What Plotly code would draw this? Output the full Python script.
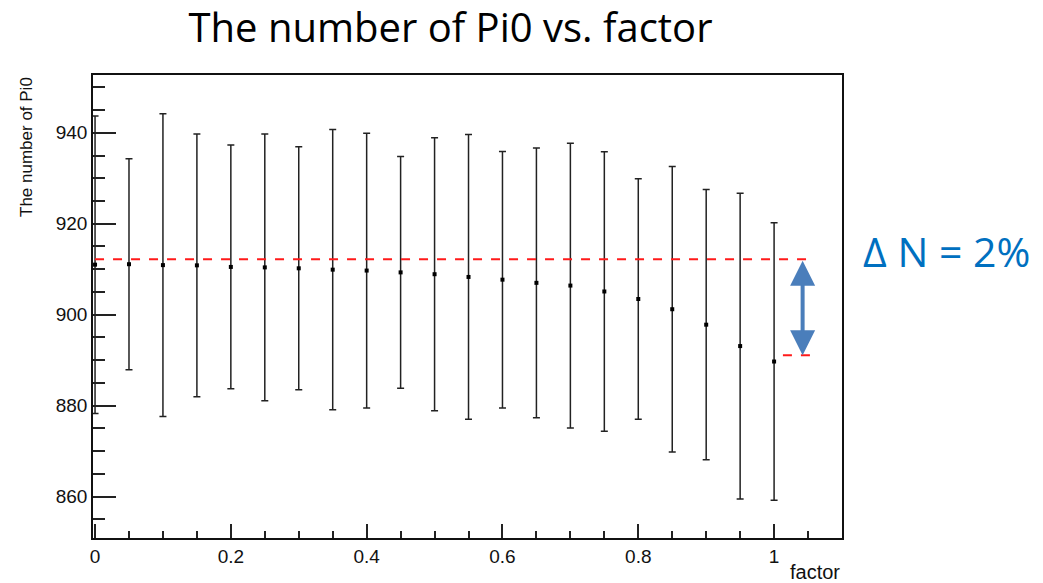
import plotly.graph_objects as go

factor = [0.0, 0.05, 0.1, 0.15, 0.2, 0.25, 0.3, 0.35, 0.4, 0.45, 0.5,
          0.55, 0.6, 0.65, 0.7, 0.75, 0.8, 0.85, 0.9, 0.95, 1.0]
n_pi0 = [911.0, 911.1, 910.9, 910.85, 910.5, 910.4, 910.2, 909.9, 909.7, 909.3, 908.9,
         908.3, 907.7, 907.0, 906.4, 905.1, 903.45, 901.2, 897.8, 893.1, 889.7]
n_err = [32.7, 23.2, 33.3, 28.9, 26.8, 29.35, 26.7, 30.8, 30.2, 25.5, 30.0,
         31.3, 28.2, 29.65, 31.3, 30.75, 26.45, 31.4, 29.7, 33.6, 30.5]

ref_high = 912.2
ref_low = 891.1

fig = go.Figure()
fig.add_trace(go.Scatter(
    x=factor, y=n_pi0, mode="markers",
    marker=dict(symbol="square", size=4, color="black"),
    error_y=dict(type="data", array=n_err, visible=True, color="#222222",
                 thickness=1.5, width=3.5),
    cliponaxis=False, showlegend=False,
))

fig.add_shape(type="line", xref="x", yref="y", x0=0.0, x1=1.06, y0=ref_high, y1=ref_high,
              line=dict(color="#ff1a1a", width=2, dash="dash"))
fig.add_shape(type="line", xref="x", yref="y", x0=1.013, x1=1.066, y0=ref_low, y1=ref_low,
              line=dict(color="#ff1a1a", width=2, dash="dash"))

fig.add_annotation(x=1.042, y=ref_low, ax=1.042, ay=ref_high, xref="x", yref="y",
                   axref="x", ayref="y", showarrow=True, arrowhead=2, arrowside="end+start",
                   arrowsize=1.25, arrowwidth=4, arrowcolor="#4a7ebb", text="", standoff=0,
                   startstandoff=0)

fig.add_annotation(x=1.026, y=0.619, xref="paper", yref="paper", xanchor="left",
                   yanchor="middle", text="Δ N = 2%", showarrow=False,
                   font=dict(family="Open Sans", size=41, color="#0070c0"))

fig.update_layout(
    width=1043, height=583,
    margin=dict(l=93, r=201, t=75, b=45),
    plot_bgcolor="white", paper_bgcolor="white",
    font=dict(family="Liberation Sans", size=19, color="#111111"),
    title=dict(text="The number of Pi0 vs. factor", x=450.5 / 1043, xanchor="center",
               y=1 - 28 / 583, yanchor="middle",
               font=dict(family="Open Sans", size=40, color="black")),
)
fig.update_xaxes(range=[-0.003, 1.1], tick0=0, dtick=0.2, ticks="inside", ticklen=14,
                 tickwidth=1.5, tickcolor="#222", showline=True, linecolor="#111",
                 linewidth=1.5, mirror=True, showgrid=False, zeroline=False,
                 layer="below traces", tickfont=dict(size=19),
                 minor=dict(tick0=0, dtick=0.05, ticks="inside", ticklen=7, tickwidth=1.5,
                            tickcolor="#222", showgrid=False))
fig.update_yaxes(range=[850.9, 952.7], tick0=860, dtick=20, ticks="inside", ticklen=23,
                 tickwidth=1.5, tickcolor="#222", showline=True, linecolor="#111",
                 linewidth=1.5, mirror=True, showgrid=False, zeroline=False,
                 layer="below traces", tickfont=dict(size=19),
                 minor=dict(tick0=860, dtick=5, ticks="inside", ticklen=12, tickwidth=1.5,
                            tickcolor="#222", showgrid=False))

fig.add_annotation(text="factor", xref="paper", yref="paper", x=1.0, y=0, yshift=-34,
                   xanchor="right", yanchor="middle", showarrow=False,
                   font=dict(family="Liberation Sans", size=20, color="#111"))
fig.add_annotation(text="The number of Pi0", xref="paper", yref="paper", x=0, xshift=-67,
                   y=1.0, xanchor="center", yanchor="top", textangle=-90, showarrow=False,
                   font=dict(family="Liberation Sans", size=17, color="#111"))

fig.write_html("out.html")
